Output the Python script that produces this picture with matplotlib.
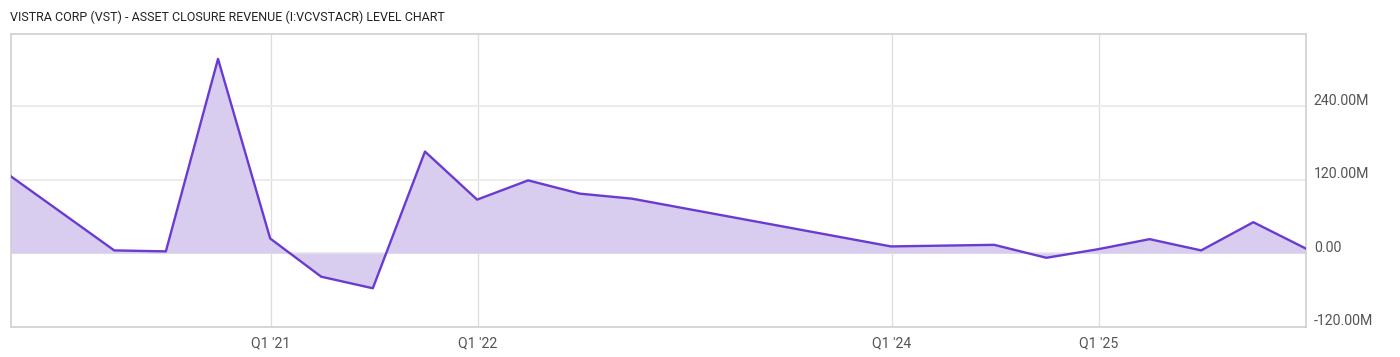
import matplotlib
matplotlib.use("Agg")
import matplotlib.pyplot as plt
import matplotlib.transforms as mtransforms
import numpy as np
import pandas as pd

dates = ["2019-09-30", "2020-03-31", "2020-06-30", "2020-09-30", "2020-12-31",
         "2021-03-31", "2021-06-30", "2021-09-30", "2021-12-31", "2022-03-31",
         "2022-06-30", "2022-09-30", "2023-12-31", "2024-06-30", "2024-09-30",
         "2024-12-31", "2025-03-31", "2025-06-30", "2025-09-30", "2025-12-31"]
values_m = [125.9, 4.4, 2.8, 317.5, 23.9,
            -38.6, -57.5, 166.0, 87.4, 118.9,
            97.2, 89.0, 10.9, 13.5, -7.7,
            6.5, 22.8, 4.4, 50.5, 7.7]
tick_dates = ["2021-01-01", "2022-01-01", "2024-01-01", "2025-01-01"]
tick_labels = ["Q1 '21", "Q1 '22", "Q1 '24", "Q1 '25"]
y_ticks_m = [-120, 0, 120, 240]
y_tick_labels = ["-120.00M", "0.00", "120.00M", "240.00M"]
title = "VISTRA CORP (VST) - ASSET CLOSURE REVENUE (I:VCVSTACR) LEVEL CHART"

plt.rcParams['font.family'] = ['Roboto', 'DejaVu Sans']

x = pd.to_datetime(dates)
y = np.array(values_m) * 1e6

fig = plt.figure(figsize=(14, 3.57), dpi=100)
W, H = 1400, 357
left, right, top, bottom = 10.5, 1305.5, 33.5, 326.5
ax = fig.add_axes([left / W, 1 - bottom / H, (right - left) / W, (bottom - top) / H])

line_color = "#6a3bd0"
fill_color = "#d8cdee"
ax.fill_between(x, y, 0, color=fill_color, linewidth=0, zorder=2)
ax.plot(x, y, color=line_color, linewidth=1.7, zorder=3)

ax.set_xlim(x[0], x[-1])
ax.set_ylim(-119e6, 359e6)

ax.set_xticks(pd.to_datetime(tick_dates))
ax.set_xticklabels(tick_labels)
ax.set_yticks([v * 1e6 for v in y_ticks_m])
ax.set_yticklabels(y_tick_labels)
ax.yaxis.tick_right()

ax.grid(axis='x', color="#dddddd", linewidth=0.9, zorder=1)
ax.grid(axis='y', color="#ebebeb", linewidth=1.4, zorder=1)
ax.axhline(0, color="#dddddd", linewidth=1.4, zorder=1)

for s in ax.spines.values():
    s.set_color("#d0d0d0")
    s.set_linewidth(1.2)

ax.tick_params(axis='both', length=0, labelsize=10.2, colors="#555555")
ax.tick_params(axis='x', pad=7)
ax.tick_params(axis='y', pad=6)

offset = mtransforms.ScaledTranslation(0, 7 / 100, fig.dpi_scale_trans)
for lbl in ax.get_yticklabels():
    lbl.set_transform(lbl.get_transform() + offset)

fig.text(10 / W, 1 - 17 / H, title, fontsize=9, color="#222222", va='center', ha='left')

fig.savefig("out.png", dpi=100, facecolor="white")
